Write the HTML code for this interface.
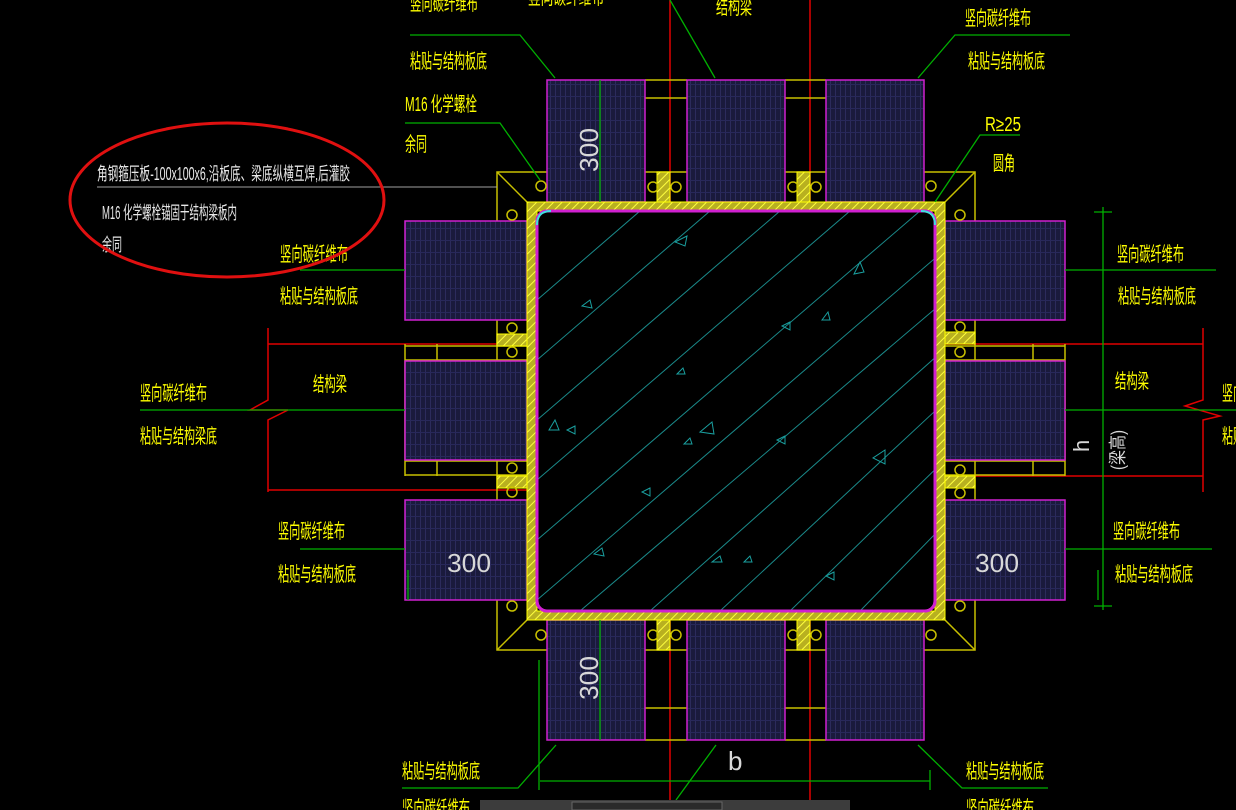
<!DOCTYPE html>
<html><head><meta charset="utf-8"><style>
html,body{margin:0;padding:0;background:#000;}
svg{display:block}
text{font-family:"Liberation Sans","Noto Sans CJK SC",sans-serif;}
.y{fill:#ffff00;font-size:20px}
.w{fill:#e0e0e0}
</style></head><body>
<svg width="1236" height="810" viewBox="0 0 1236 810" xmlns="http://www.w3.org/2000/svg">
<defs>
<pattern id="cf" width="5" height="12" patternUnits="userSpaceOnUse">
<rect width="5" height="12" fill="#1a1a3c"/>
<line x1="0.5" y1="0" x2="0.5" y2="12" stroke="#2c2b5c" stroke-width="1"/>
<line x1="0" y1="0.5" x2="5" y2="0.5" stroke="#28285a" stroke-width="1"/>
</pattern>
<pattern id="hat" width="6" height="6" patternUnits="userSpaceOnUse" patternTransform="rotate(45)">
<rect width="6" height="6" fill="#b8b020"/>
<line x1="0" y1="0" x2="0" y2="6" stroke="#ffff40" stroke-width="2"/>
</pattern>
<clipPath id="cc"><rect x="537" y="211" width="398" height="400" rx="10"/></clipPath>
</defs>
<rect width="1236" height="810" fill="#000"/>

<g stroke="#e00000" stroke-width="1.5" fill="none">
<line x1="670" y1="0" x2="670" y2="810"/>
<line x1="810" y1="0" x2="810" y2="810"/>
<line x1="268" y1="344" x2="527" y2="344"/>
<line x1="268" y1="490" x2="527" y2="490"/>
<polyline points="268,328 268,400 250,410 288,410 268,420 268,492"/>
<line x1="945" y1="344" x2="1203" y2="344"/>
<line x1="945" y1="476" x2="1203" y2="476"/>
<polyline points="1203,328 1203,400 1185,406 1220,416 1203,420 1203,492"/>
</g>

<g stroke="#c8c000" stroke-width="1.5" fill="none">
<rect x="497" y="172" width="478" height="478"/>
<line x1="497" y1="172" x2="527" y2="202"/>
<line x1="975" y1="172" x2="945" y2="202"/>
<line x1="497" y1="650" x2="527" y2="620"/>
<line x1="975" y1="650" x2="945" y2="620"/>
<line x1="405" y1="346" x2="527" y2="346"/><line x1="405" y1="360" x2="527" y2="360"/>
<line x1="405" y1="461" x2="527" y2="461"/><line x1="405" y1="475" x2="527" y2="475"/>
<line x1="945" y1="346" x2="1065" y2="346"/><line x1="945" y1="360" x2="1065" y2="360"/>
<line x1="945" y1="461" x2="1065" y2="461"/><line x1="945" y1="475" x2="1065" y2="475"/>
<line x1="1033" y1="344" x2="1033" y2="476"/><line x1="1065" y1="344" x2="1065" y2="476"/>
<line x1="437" y1="344" x2="437" y2="476"/><line x1="405" y1="344" x2="405" y2="476"/>
<line x1="645" y1="80" x2="687" y2="80"/><line x1="785" y1="80" x2="826" y2="80"/>
<line x1="645" y1="98" x2="687" y2="98"/><line x1="785" y1="98" x2="826" y2="98"/>
<line x1="645" y1="708" x2="687" y2="708"/><line x1="785" y1="708" x2="826" y2="708"/>
<line x1="645" y1="740" x2="687" y2="740"/><line x1="785" y1="740" x2="826" y2="740"/>
</g>

<g fill="url(#cf)" stroke="#d020d0" stroke-width="1.5">
<rect x="547" y="80" width="98" height="122"/>
<rect x="687" y="80" width="98" height="122"/>
<rect x="826" y="80" width="98" height="122"/>
<rect x="547" y="620" width="98" height="120"/>
<rect x="687" y="620" width="98" height="120"/>
<rect x="826" y="620" width="98" height="120"/>
<rect x="405" y="221" width="122" height="99"/>
<rect x="405" y="361" width="122" height="99"/>
<rect x="405" y="500" width="122" height="100"/>
<rect x="945" y="221" width="120" height="99"/>
<rect x="945" y="361" width="120" height="99"/>
<rect x="945" y="500" width="120" height="100"/>
</g>

<path d="M527,202 H945 V620 H527 Z M537,211 V611 H935 V211 Z" fill="url(#hat)" fill-rule="evenodd" stroke="#ffff00" stroke-width="1"/>
<g fill="url(#hat)" stroke="#ffff00" stroke-width="1">
<rect x="657" y="172" width="13" height="30"/><rect x="797" y="172" width="13" height="30"/>
<rect x="657" y="620" width="13" height="30"/><rect x="797" y="620" width="13" height="30"/>
<rect x="497" y="334" width="30" height="12"/><rect x="497" y="476" width="30" height="12"/>
<rect x="945" y="332" width="30" height="12"/><rect x="945" y="476" width="30" height="12"/>
</g>

<rect x="537" y="211" width="398" height="400" rx="10" fill="#000" stroke="#d020d0" stroke-width="3"/>
<g clip-path="url(#cc)" stroke="#1a8a8a" stroke-width="1" fill="none">
<line x1="537" y1="300" x2="640" y2="211"/>
<line x1="537" y1="360" x2="710" y2="211"/>
<line x1="537" y1="420" x2="780" y2="211"/>
<line x1="537" y1="480" x2="850" y2="211"/>
<line x1="537" y1="540" x2="920" y2="211"/>
<line x1="537" y1="600" x2="990" y2="211"/>
<line x1="580" y1="611" x2="1050" y2="211"/>
<line x1="650" y1="611" x2="1100" y2="211"/>
<line x1="720" y1="611" x2="1150" y2="211"/>
<line x1="790" y1="611" x2="1200" y2="211"/>
<line x1="860" y1="611" x2="1250" y2="211"/>
<g stroke="#1aa0a0">
<path d="M687,236 l-12,6 l10,4z"/><path d="M860,262 l-6,12 l10,-2z"/><path d="M590,300 l-8,6 l10,2z"/>
<path d="M790,322 l-8,4 l8,4z"/><path d="M828,312 l-6,8 l8,0z"/><path d="M555,420 l-6,10 l10,0z"/>
<path d="M575,426 l-8,4 l8,4z"/><path d="M712,422 l-12,10 l14,2z"/><path d="M690,438 l-6,6 l8,0z"/>
<path d="M885,450 l-12,8 l12,6z"/><path d="M785,436 l-8,4 l8,4z"/><path d="M650,488 l-8,4 l8,4z"/>
<path d="M602,548 l-8,6 l10,2z"/><path d="M720,556 l-8,6 l10,0z"/><path d="M834,572 l-8,4 l8,4z"/>
<path d="M683,368 l-6,6 l8,0z"/><path d="M750,556 l-6,6 l8,0z"/>
</g>
</g>
<rect x="537" y="211" width="398" height="400" rx="10" fill="none" stroke="#d020d0" stroke-width="3"/>
<path d="M537,225 Q537,211 551,211" stroke="#40e0e0" stroke-width="2" fill="none"/>
<path d="M921,211 Q935,211 935,225" stroke="#40e0e0" stroke-width="2" fill="none"/>

<g stroke="#c8c000" stroke-width="1.5" fill="none">
<circle cx="541" cy="186" r="5"/><circle cx="512" cy="215" r="5"/>
<circle cx="931" cy="186" r="5"/><circle cx="960" cy="215" r="5"/>
<circle cx="541" cy="635" r="5"/><circle cx="512" cy="606" r="5"/>
<circle cx="931" cy="635" r="5"/><circle cx="960" cy="606" r="5"/>
<circle cx="653" cy="187" r="5"/><circle cx="676" cy="187" r="5"/>
<circle cx="793" cy="187" r="5"/><circle cx="816" cy="187" r="5"/>
<circle cx="653" cy="635" r="5"/><circle cx="676" cy="635" r="5"/>
<circle cx="793" cy="635" r="5"/><circle cx="816" cy="635" r="5"/>
<circle cx="512" cy="328" r="5"/><circle cx="512" cy="352" r="5"/>
<circle cx="512" cy="468" r="5"/><circle cx="512" cy="492" r="5"/>
<circle cx="960" cy="327" r="5"/><circle cx="960" cy="352" r="5"/>
<circle cx="960" cy="470" r="5"/><circle cx="960" cy="493" r="5"/>
</g>

<g stroke="#00b000" stroke-width="1.3" fill="none">
<polyline points="410,35 520,35 555,78"/>
<polyline points="405,123 500,123 540,180"/>
<line x1="670" y1="0" x2="715" y2="78"/>
<polyline points="1070,35 955,35 918,78"/>
<polyline points="1020,135 980,135 935,202"/>
<line x1="300" y1="270" x2="405" y2="270"/>
<line x1="140" y1="410" x2="405" y2="410"/>
<line x1="300" y1="549" x2="405" y2="549"/>
<line x1="1065" y1="270" x2="1216" y2="270"/>
<line x1="1065" y1="410" x2="1236" y2="410"/>
<line x1="1065" y1="549" x2="1212" y2="549"/>
<line x1="1103" y1="207" x2="1103" y2="610"/>
<line x1="1094" y1="212" x2="1112" y2="212"/><line x1="1094" y1="606" x2="1112" y2="606"/>
<line x1="540" y1="781" x2="930" y2="781"/>
<line x1="539" y1="660" x2="539" y2="790"/><line x1="930" y1="770" x2="930" y2="790"/>
<line x1="600" y1="80" x2="600" y2="202"/><line x1="600" y1="620" x2="600" y2="740"/>
<line x1="408" y1="570" x2="408" y2="600"/><line x1="1098" y1="570" x2="1098" y2="600"/>
<polyline points="402,788 518,788 556,745"/>
<line x1="676" y1="800" x2="716" y2="745"/>
<polyline points="1048,788 962,788 918,745"/>
</g>
<line x1="97" y1="187" x2="497" y2="187" stroke="#a0a0a0" stroke-width="1"/>

<g class="y">
<text x="410" y="10" textLength="68" lengthAdjust="spacingAndGlyphs">竖向碳纤维布</text>
<text x="410" y="68" textLength="77" lengthAdjust="spacingAndGlyphs">粘贴与结构板底</text>
<text x="528" y="4" textLength="76" lengthAdjust="spacingAndGlyphs">竖向碳纤维布</text>
<text x="716" y="14" textLength="36" lengthAdjust="spacingAndGlyphs">结构梁</text>
<text x="965" y="25" textLength="66" lengthAdjust="spacingAndGlyphs">竖向碳纤维布</text>
<text x="968" y="68" textLength="77" lengthAdjust="spacingAndGlyphs">粘贴与结构板底</text>
<text x="405" y="111" textLength="72" lengthAdjust="spacingAndGlyphs">M16 化学螺栓</text>
<text x="405" y="151" textLength="22" lengthAdjust="spacingAndGlyphs">余同</text>
<text x="985" y="131" textLength="36" lengthAdjust="spacingAndGlyphs">R≥25</text>
<text x="993" y="170" textLength="22" lengthAdjust="spacingAndGlyphs">圆角</text>
<text x="280" y="261" textLength="68" lengthAdjust="spacingAndGlyphs">竖向碳纤维布</text>
<text x="280" y="303" textLength="78" lengthAdjust="spacingAndGlyphs">粘贴与结构板底</text>
<text x="313" y="391" textLength="34" lengthAdjust="spacingAndGlyphs">结构梁</text>
<text x="140" y="400" textLength="67" lengthAdjust="spacingAndGlyphs">竖向碳纤维布</text>
<text x="140" y="443" textLength="77" lengthAdjust="spacingAndGlyphs">粘贴与结构梁底</text>
<text x="278" y="538" textLength="67" lengthAdjust="spacingAndGlyphs">竖向碳纤维布</text>
<text x="278" y="581" textLength="78" lengthAdjust="spacingAndGlyphs">粘贴与结构板底</text>
<text x="1117" y="261" textLength="67" lengthAdjust="spacingAndGlyphs">竖向碳纤维布</text>
<text x="1118" y="303" textLength="78" lengthAdjust="spacingAndGlyphs">粘贴与结构板底</text>
<text x="1115" y="388" textLength="34" lengthAdjust="spacingAndGlyphs">结构梁</text>
<text x="1113" y="538" textLength="67" lengthAdjust="spacingAndGlyphs">竖向碳纤维布</text>
<text x="1115" y="581" textLength="78" lengthAdjust="spacingAndGlyphs">粘贴与结构板底</text>
<text x="1222" y="400" textLength="22" lengthAdjust="spacingAndGlyphs">竖向</text>
<text x="1222" y="443" textLength="22" lengthAdjust="spacingAndGlyphs">粘贴</text>
<text x="402" y="778" textLength="78" lengthAdjust="spacingAndGlyphs">粘贴与结构板底</text>
<text x="966" y="778" textLength="78" lengthAdjust="spacingAndGlyphs">粘贴与结构板底</text>
<text x="402" y="815" textLength="68" lengthAdjust="spacingAndGlyphs">竖向碳纤维布</text>
<text x="966" y="815" textLength="68" lengthAdjust="spacingAndGlyphs">竖向碳纤维布</text>
</g>
<g fill="#e8e8e8" font-size="18">
<text x="97" y="180" textLength="253" lengthAdjust="spacingAndGlyphs">角钢箍压板-100x100x6,沿板底、梁底纵横互焊,后灌胶</text>
<text x="102" y="219" textLength="135" lengthAdjust="spacingAndGlyphs">M16 化学螺栓锚固于结构梁板内</text>
<text x="102" y="251" textLength="20" lengthAdjust="spacingAndGlyphs">余同</text>
</g>
<g fill="#d8d8d8" font-size="26">
<text x="447" y="572" textLength="44" lengthAdjust="spacingAndGlyphs">300</text>
<text x="975" y="572" textLength="44" lengthAdjust="spacingAndGlyphs">300</text>
<text transform="translate(598,172) rotate(-90)" textLength="44" lengthAdjust="spacingAndGlyphs">300</text>
<text transform="translate(598,700) rotate(-90)" textLength="44" lengthAdjust="spacingAndGlyphs">300</text>
<text x="728" y="770">b</text>
<text transform="translate(1089,452) rotate(-90)" font-size="22">h</text>
<text transform="translate(1124,470) rotate(-90)" font-size="18" textLength="40" lengthAdjust="spacingAndGlyphs">(梁高)</text>
</g>

<ellipse cx="227" cy="200" rx="157" ry="77" fill="none" stroke="#e01010" stroke-width="3"/>

<rect x="480" y="800" width="370" height="10" fill="#3c3c3c"/>
<rect x="572" y="802" width="150" height="8" fill="#2a2a2a" stroke="#666"/>
</svg>
</body></html>
